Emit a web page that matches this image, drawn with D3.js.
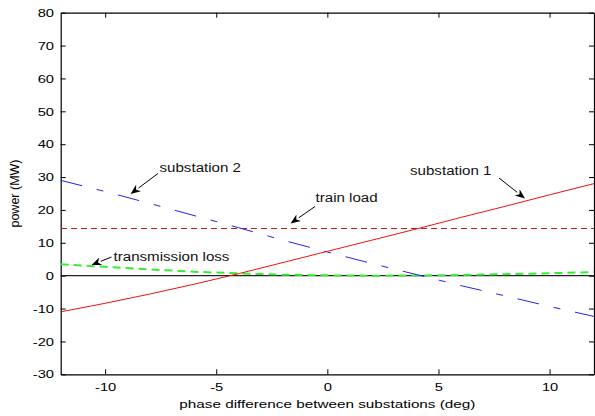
<!DOCTYPE html>
<html>
<head>
<meta charset="utf-8">
<script src="https://cdn.jsdelivr.net/npm/d3@7"></script>
<style>
  html, body { margin: 0; padding: 0; background: #fff; }
  svg { display: block; font-family: "Liberation Sans", Arial, sans-serif; }
</style>
</head>
<body>
<div id="chart"></div>
<script>
// phase difference (deg)
const phase = [-12, -10, -8, -6, -4, -2, 0, 2, 4, 6, 8, 10, 12];
// power (MW)
const substation1 = [-11, -8.4, -5.6, -2.6, 0.6, 4.0, 7.4, 10.8, 14.2, 17.7, 21.1, 24.6, 28.0];
const substation2 = [29.0, 25.6, 22.0, 18.3, 14.6, 10.8, 7.2, 3.7, 0.35, -3.0, -6.15, -9.35, -12.4];
const transLoss = [3.5, 2.7, 1.9, 1.2, 0.7, 0.3, 0.1, 0.0, 0.05, 0.2, 0.45, 0.75, 1.1];
const trainLoad = [14.5, 14.5, 14.5, 14.5, 14.5, 14.5, 14.5, 14.5, 14.5, 14.5, 14.5, 14.5, 14.5];
const zeroLine = [0, 0, 0, 0, 0, 0, 0, 0, 0, 0, 0, 0, 0];

const xTicks = [-10, -5, 0, 5, 10];
const yTicks = [-30, -20, -10, 0, 10, 20, 30, 40, 50, 60, 70, 80];

const width = 595, height = 416;
const plotL = 60.7, plotR = 594, plotT = 12.7, plotB = 374.3;

const svg = d3.select("#chart").append("svg")
    .attr("width", width)
    .attr("height", height);

const x = d3.scaleLinear().domain([-12, 12]).range([plotL, plotR]);
const y = d3.scaleLinear().domain([-30, 80]).range([plotB, plotT]);

const tickSx = 1.28;  // the reference text is stretched sideways
const plain = d => String(d);  // hyphen minus, like the reference

// axes, ticks inward on all four sides
const xAxis = svg.append("g")
    .attr("transform", `translate(0,${plotB})`)
    .call(d3.axisBottom(x).tickValues(xTicks).tickFormat(plain).tickSizeInner(-5).tickSizeOuter(0).tickPadding(8.5));
const yAxis = svg.append("g")
    .attr("transform", `translate(${plotL},0)`)
    .call(d3.axisLeft(y).tickValues(yTicks).tickFormat(plain).tickSizeInner(-5).tickSizeOuter(0).tickPadding(6.7));
svg.append("g")
    .attr("transform", `translate(0,${plotT})`)
    .call(d3.axisTop(x).tickValues(xTicks).tickSizeInner(-5).tickSizeOuter(0).tickFormat(""));
svg.append("g")
    .attr("transform", `translate(${plotR},0)`)
    .call(d3.axisRight(y).tickValues(yTicks).tickSizeInner(-5).tickSizeOuter(0).tickFormat(""));

svg.selectAll(".domain").attr("stroke", "#000").attr("stroke-width", 1.2);
svg.selectAll(".tick line").attr("stroke", "#000");

xAxis.selectAll("text")
    .style("font-size", "11.5px")
    .attr("fill", "#000")
    .attr("transform", `scale(${tickSx},1)`);
yAxis.selectAll("text")
    .style("font-size", "11.5px")
    .attr("fill", "#000")
    .attr("x", -6.7 / tickSx)
    .attr("transform", `scale(${tickSx},1)`);

// axis titles
svg.append("text")
    .attr("transform", `translate(${(plotL + plotR) / 2},408) scale(1.33,1)`)
    .style("font-size", "11.5px")
    .style("text-anchor", "middle")
    .text("phase difference between substations (deg)");

svg.append("text")
    .attr("transform", `translate(19,${(plotT + plotB) / 2}) rotate(-90)`)
    .style("font-size", "12.5px")
    .style("text-anchor", "middle")
    .text("power (MW)");

// series
const line = vals => d3.line()
    .x((d, i) => x(phase[i]))
    .y(d => y(d))(vals);

svg.append("path").attr("d", line(zeroLine))
    .attr("fill", "none").attr("stroke", "#222").attr("stroke-width", 1.2);

svg.append("path").attr("d", line(trainLoad))
    .attr("fill", "none").attr("stroke", "#c01818").attr("stroke-width", 1)
    .attr("shape-rendering", "crispEdges")
    .attr("stroke-dasharray", "6,4");

svg.append("path").attr("d", line(transLoss))
    .attr("fill", "none").attr("stroke", "#33ee33").attr("stroke-width", 2)
    .attr("stroke-dasharray", "8,5");

svg.append("path").attr("d", line(substation2))
    .attr("fill", "none").attr("stroke", "#2222ee").attr("stroke-width", 1)
    .attr("stroke-dasharray", "22,15,7,15");

svg.append("path").attr("d", line(substation1))
    .attr("fill", "none").attr("stroke", "#ee1111").attr("stroke-width", 1);

// annotations with arrows
const notes = [
    { label: "substation 2", tx: 159.5, ty: 171.5, from: [158, 173.5], to: [130.5, 194] },
    { label: "train load", tx: 315.5, ty: 201.5, from: [315, 206.5], to: [290.5, 223.5] },
    { label: "transmission loss", tx: 113.5, ty: 261, from: [111.5, 257], to: [91.5, 265] },
    { label: "substation 1", tx: 410, ty: 174.5, from: [499, 178], to: [525, 198.5] }
];

notes.forEach(n => {
    svg.append("text")
        .attr("transform", `translate(${n.tx},${n.ty}) scale(1.12,1)`)
        .style("font-size", "13.5px")
        .attr("fill", "#111")
        .text(n.label);

    const [x0, y0] = n.from, [x1, y1] = n.to;
    const ang = Math.atan2(y1 - y0, x1 - x0);
    const hl = 10, hw = 4;
    const bx = x1 - hl * Math.cos(ang), by = y1 - hl * Math.sin(ang);
    svg.append("line")
        .attr("x1", x0).attr("y1", y0).attr("x2", bx).attr("y2", by)
        .attr("stroke", "#000").attr("stroke-width", 1);
    const p1 = [bx + hw * Math.sin(ang), by - hw * Math.cos(ang)];
    const p2 = [bx - hw * Math.sin(ang), by + hw * Math.cos(ang)];
    svg.append("path")
        .attr("d", `M${x1},${y1}L${p1[0]},${p1[1]}L${bx + 3 * Math.cos(ang)},${by + 3 * Math.sin(ang)}L${p2[0]},${p2[1]}Z`)
        .attr("fill", "#000");
});
</script>
</body>
</html>
